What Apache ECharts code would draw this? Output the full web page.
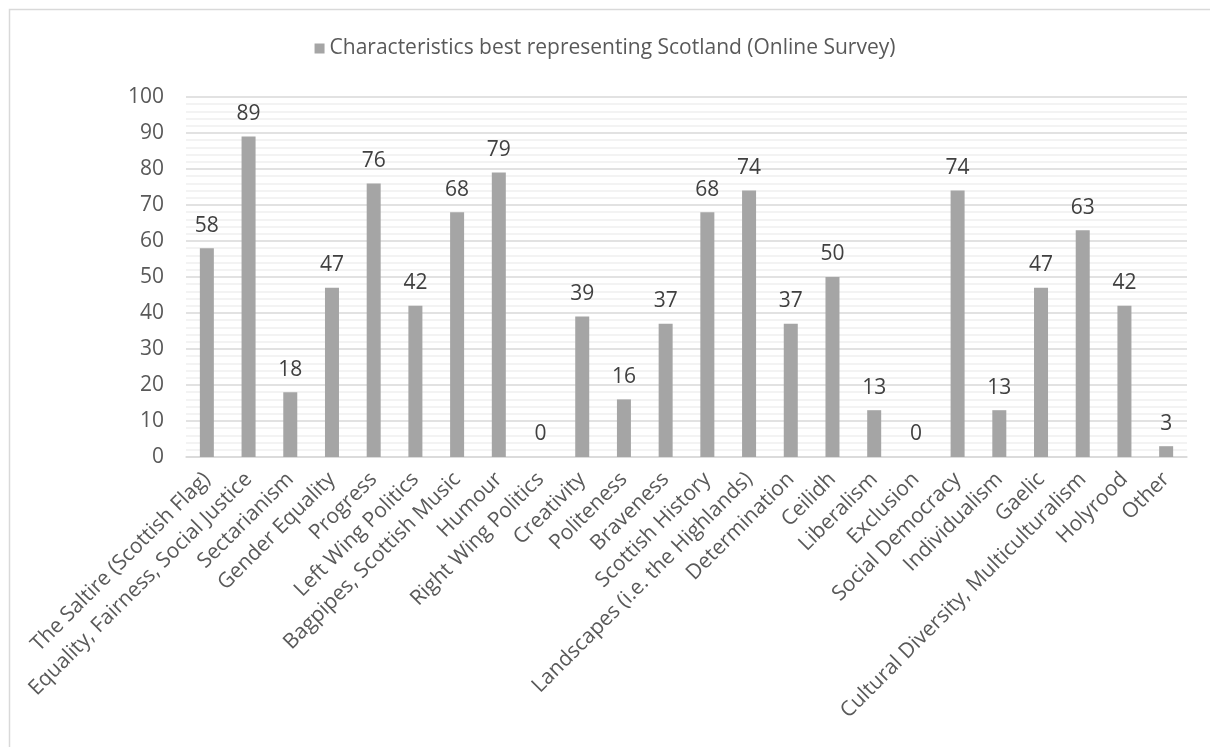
<!DOCTYPE html>
<html>
<head>
<meta charset="utf-8">
<script src="https://cdn.jsdelivr.net/npm/echarts@6/dist/echarts.min.js"></script>
<style>html,body{margin:0;padding:0;background:#fff}#c{width:1210px;height:747px}</style>
</head>
<body>
<div id="c"></div>
<script>
const seriesName = 'Characteristics best representing Scotland (Online Survey)';
const categories = ['The Saltire (Scottish Flag)', 'Equality, Fairness, Social Justice', 'Sectarianism', 'Gender Equality', 'Progress', 'Left Wing Politics', 'Bagpipes, Scottish Music', 'Humour', 'Right Wing Politics', 'Creativity', 'Politeness', 'Braveness', 'Scottish History', 'Landscapes (i.e. the Highlands)', 'Determination', 'Ceilidh', 'Liberalism', 'Exclusion', 'Social Democracy', 'Individualism', 'Gaelic', 'Cultural Diversity, Multiculturalism', 'Holyrood', 'Other'];
const values = [58, 89, 18, 47, 76, 42, 68, 79, 0, 39, 16, 37, 68, 74, 37, 50, 13, 0, 74, 13, 47, 63, 42, 3];
const yTicks = [0, 10, 20, 30, 40, 50, 60, 70, 80, 90, 100];

const FONT = 'Open Sans';
const chart = echarts.init(document.getElementById('c'), null, {renderer: 'canvas'});
chart.setOption({
  animation: false,
  backgroundColor: '#ffffff',
  textStyle: {fontFamily: FONT},
  graphic: [{
    type: 'rect', left: 7, top: 7, shape: {width: 1230, height: 780},
    style: {fill: 'none', stroke: '#D9D9D9', lineWidth: 1.5}, silent: true
  }],
  legend: {
    top: 33, left: 'center', itemWidth: 10, itemHeight: 10, itemGap: 4,
    icon: 'rect',
    textStyle: {fontFamily: FONT, fontSize: 21, color: '#595959'},
    data: [seriesName]
  },
  grid: {left: 186, right: 23, top: 97, bottom: 290, containLabel: false},
  xAxis: {
    type: 'category', data: categories,
    axisLine: {show: true, lineStyle: {color: '#D9D9D9', width: 1.5}},
    axisTick: {show: false},
    axisLabel: {rotate: 45, interval: 0, margin: 19, color: '#595959', fontSize: 21, fontFamily: FONT}
  },
  yAxis: {
    type: 'value', min: yTicks[0], max: yTicks[yTicks.length - 1], interval: 10,
    axisLine: {show: false}, axisTick: {show: false},
    axisLabel: {color: '#595959', fontSize: 21, fontFamily: FONT, margin: 22},
    splitLine: {show: true, lineStyle: {color: '#D9D9D9', width: 1.5}},
    minorTick: {show: false, splitNumber: 5},
    minorSplitLine: {show: true, lineStyle: {color: '#EFEFEF', width: 1.5}}
  },
  series: [{
    name: seriesName, type: 'bar', data: values, barWidth: 14,
    itemStyle: {color: '#A5A5A5'},
    label: {show: true, position: 'top', distance: 12, color: '#404040', fontSize: 21, fontFamily: FONT}
  }]
});
</script>
</body>
</html>
